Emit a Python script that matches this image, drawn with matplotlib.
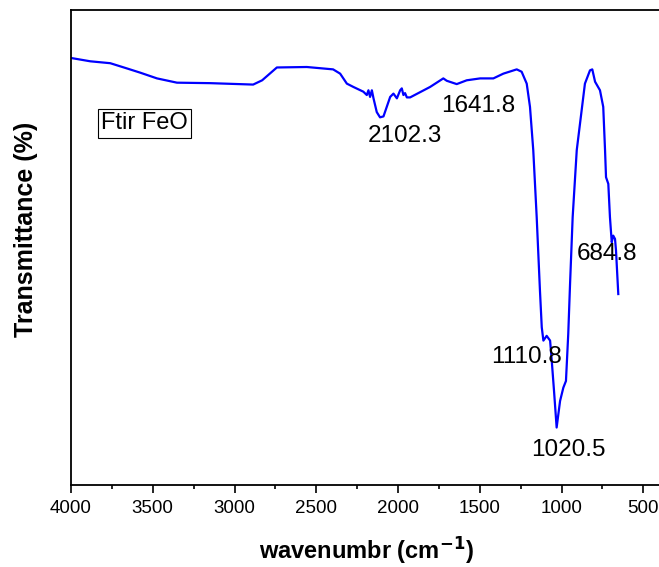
import matplotlib
matplotlib.use("Agg")
from matplotlib import pyplot as plt
from matplotlib.ticker import MultipleLocator

plt.rcParams['font.family'] = ['Liberation Sans', 'DejaVu Sans']
plt.rcParams['mathtext.default'] = 'regular'

# spectrum (wavenumber in cm-1, transmittance in %)
wavenumber = [4000, 3882, 3760, 3658, 3576, 3474, 3352, 3149, 2886, 2831,
              2741, 2558, 2397, 2354, 2313, 2273, 2212, 2191, 2181, 2171,
              2160, 2150, 2130, 2110, 2089, 2048, 2028, 2007, 1987, 1977,
              1967, 1957, 1946, 1926, 1804, 1723, 1702, 1641, 1580, 1498,
              1417, 1356, 1274, 1244, 1213, 1193, 1173, 1152, 1132, 1121,
              1111, 1091, 1070, 1060, 1046, 1030, 1009, 989, 973, 959,
              948, 932, 907, 887, 857, 826, 812, 795, 765, 745,
              734, 728, 714, 704, 693, 684, 673, 667, 653]
transmittance = [89.9, 89.2, 88.8, 87.7, 86.8, 85.6, 84.7, 84.6, 84.3, 85.2,
                 87.9, 88.0, 87.5, 86.6, 84.5, 83.8, 82.8, 82.1, 83.1, 81.7,
                 83.1, 81.4, 78.5, 77.4, 77.6, 81.7, 82.4, 81.4, 83.1, 83.5,
                 82.1, 82.5, 81.6, 81.6, 83.8, 85.6, 85.1, 84.4, 85.2, 85.6,
                 85.6, 86.6, 87.5, 87.0, 84.5, 79.6, 70.5, 56.4, 40.9, 33.2,
                 30.4, 31.4, 30.4, 26.2, 19.8, 12.1, 17.7, 20.5, 21.9, 31.8,
                 42.3, 56.4, 70.5, 76.1, 84.5, 87.3, 87.5, 84.9, 83.1, 79.6,
                 70.5, 64.8, 63.4, 56.4, 51.1, 52.5, 51.8, 49.4, 40.2]

# peak labels and where their baselines sit
peak_labels = ['2102.3', '1641.8', '684.8', '1110.8', '1020.5']
label_x = [1957, 1511, 724, 1215, 959]
label_y = [72.2, 78.5, 47.3, 25.7, 6.1]

fig = plt.figure(figsize=(6.59, 5.67), dpi=100)
ax = fig.add_axes([71 / 659, 82 / 567, 588 / 659, 475 / 567])

ax.plot(wavenumber, transmittance, color='#0000FF', lw=1.6)

for txt, x, y in zip(peak_labels, label_x, label_y):
    ax.text(x, y, txt, fontsize=17.5, ha='center', va='baseline')

ax.text(0.125, 0.762, 'Ftir FeO', transform=ax.transAxes, fontsize=17,
        ha='center', va='center',
        bbox=dict(boxstyle='square,pad=0.15', fc='white', ec='black', lw=0.8))

ax.set_xlim(4000, 404)
ax.set_ylim(0, 100)
ax.xaxis.set_major_locator(MultipleLocator(500))
ax.xaxis.set_minor_locator(MultipleLocator(250))
ax.tick_params(axis='x', which='major', direction='out', length=6, width=1.2,
               labelsize=13.5, pad=5)
ax.tick_params(axis='x', which='minor', direction='out', length=3, width=1.2)
ax.set_yticks([])
ax.spines['right'].set_visible(False)
for s in ['left', 'bottom', 'top']:
    ax.spines[s].set_linewidth(1.3)

fig.text(366 / 659, 1 - 550 / 567, r'wavenumbr (cm$^{\mathbf{-1}}$)', fontsize=17,
         fontweight='bold', ha='center', va='center')
fig.text(26 / 659, 1 - 229 / 567, 'Transmittance (%)', fontsize=18,
         fontweight='bold', ha='center', va='center', rotation=90)

fig.savefig('out.png', dpi=100)
